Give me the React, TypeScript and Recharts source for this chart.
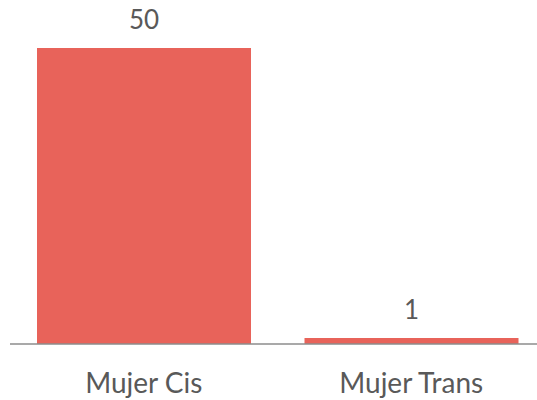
import React from 'react';
import { BarChart, Bar, XAxis, YAxis, LabelList } from 'recharts';

const categories = ['Mujer Cis', 'Mujer Trans'];
const counts = [50, 1];

const data = categories.map((name, i) => ({ name, value: counts[i] }));

const FONT = 'Lato, "Liberation Sans", sans-serif';

const App: React.FC = () => {
  return (
    <div style={{ position: 'absolute', left: 0, top: 0, width: 537, height: 400, overflow: 'hidden', background: '#fff' }}>
      <BarChart
        width={560}
        height={400}
        data={data}
        margin={{ top: 48, right: 15, bottom: 0, left: 10 }}
      >
        <XAxis
          dataKey="name"
          height={56}
          axisLine={{ stroke: '#8c8c8c', strokeWidth: 1.5 }}
          tickLine={false}
          tick={{ fill: '#595959', fontSize: 28, fontFamily: FONT }}
          tickMargin={23}
          interval={0}
        />
        <YAxis hide domain={[0, 50]} />
        <Bar dataKey="value" fill="#e8635a" barSize={214} isAnimationActive={false}>
          <LabelList
            dataKey="value"
            position="top"
            offset={19}
            fill="#595959"
            fontSize={26}
            fontFamily={FONT}
          />
        </Bar>
      </BarChart>
    </div>
  );
};

export default App;
